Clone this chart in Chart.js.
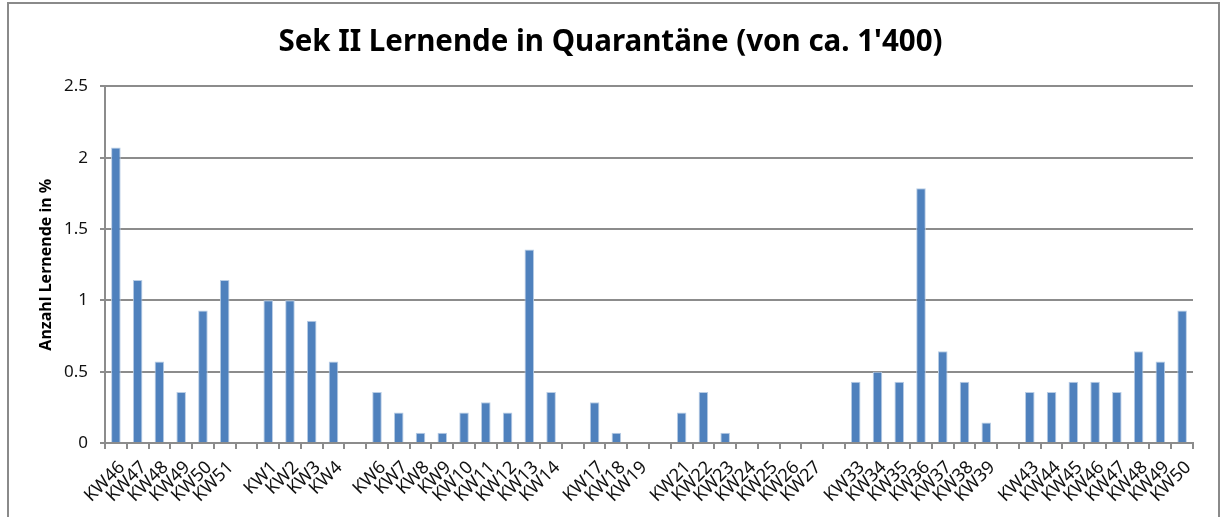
<!DOCTYPE html>
<html>
<head>
<meta charset="utf-8">
<script src="https://cdn.jsdelivr.net/npm/chart.js@4"></script>
<style>
  html, body { margin: 0; padding: 0; background: #fff; overflow: hidden; }
  #wrap { position: relative; width: 1221px; height: 517px; }
  #frame { position: absolute; left: 7px; top: 2px; width: 1209px; height: 600px; border: 2px solid #8a8a8a; }
  canvas { position: absolute; left: 0; top: 0; }
</style>
</head>
<body>
<div id="wrap">
  <div id="frame"></div>
  <canvas id="chart" width="1221" height="517"></canvas>
</div>
<script>
// Kalenderwochen, leere Einträge = Ferien
const weeks = [
  'KW46', 'KW47', 'KW48', 'KW49', 'KW50', 'KW51', '',
  'KW1', 'KW2', 'KW3', 'KW4', '',
  'KW6', 'KW7', 'KW8', 'KW9', 'KW10', 'KW11', 'KW12', 'KW13', 'KW14', '',
  'KW17', 'KW18', 'KW19', '',
  'KW21', 'KW22', 'KW23', 'KW24', 'KW25', 'KW26', 'KW27', '',
  'KW33', 'KW34', 'KW35', 'KW36', 'KW37', 'KW38', 'KW39', '',
  'KW43', 'KW44', 'KW45', 'KW46', 'KW47', 'KW48', 'KW49', 'KW50'
];

// Anteil Lernende in Quarantäne (%)
const quarantine = [
  2.071, 1.143, 0.571, 0.357, 0.929, 1.143, null,
  1.0, 1.0, 0.857, 0.571, null,
  0.357, 0.214, 0.071, 0.071, 0.214, 0.286, 0.214, 1.357, 0.357, null,
  0.286, 0.071, 0, null,
  0.214, 0.357, 0.071, 0, 0, 0, 0, null,
  0.429, 0.5, 0.429, 1.786, 0.643, 0.429, 0.143, null,
  0.357, 0.357, 0.429, 0.429, 0.357, 0.643, 0.571, 0.929
];

const yTicks = [0, 0.5, 1, 1.5, 2, 2.5];

const gridColor = '#8c8c8c';

new Chart(document.getElementById('chart'), {
  type: 'bar',
  data: {
    labels: weeks,
    datasets: [{
      label: 'Lernende in Quarantäne',
      data: quarantine,
      backgroundColor: '#4f81bd',
      borderColor: '#b9cde5',
      borderWidth: { top: 1, left: 1, right: 1, bottom: 0 },
      borderSkipped: 'bottom',
      barPercentage: 0.44,
      categoryPercentage: 1
    }]
  },
  options: {
    responsive: false,
    animation: false,
    layout: { padding: 0 },
    plugins: {
      legend: { display: false },
      tooltip: { enabled: false },
      title: {
        display: true,
        text: "Sek II Lernende in Quarantäne (von ca. 1'400)",
        color: '#000',
        font: { family: 'Noto Sans', size: 29.5, weight: 'bold' },
        padding: { top: 25, bottom: 26 }
      }
    },
    scales: {
      x: {
        offset: true,
        afterFit: (scale) => { scale.height = 74; },
        grid: {
          display: true,
          drawOnChartArea: false,
          drawTicks: true,
          tickLength: 6,
          offset: true,
          color: gridColor,
          lineWidth: 2
        },
        border: { color: gridColor, width: 2 },
        ticks: {
          autoSkip: false,
          maxRotation: 45,
          minRotation: 45,
          padding: 8,
          labelOffset: 6,
          color: '#111',
          font: { family: 'Noto Sans', size: 18 }
        }
      },
      y: {
        min: 0,
        max: 2.5,
        afterFit: (scale) => { scale.width = 105; },
        afterBuildTicks: (scale) => { scale.ticks = yTicks.map(v => ({ value: v })); },
        grid: {
          color: gridColor,
          lineWidth: 2,
          drawTicks: true,
          tickLength: 5
        },
        border: { color: gridColor, width: 2 },
        ticks: {
          padding: 12,
          color: '#111',
          font: { family: 'Noto Sans', size: 17 },
          callback: (v) => String(v)
        },
        title: {
          display: true,
          text: 'Anzahl Lernende in %',
          color: '#000',
          font: { family: 'Noto Sans', size: 16, weight: 'bold' },
          padding: { top: 37, bottom: 0 }
        }
      },
      // leerer Rand rechts, damit der Titel über der ganzen Breite zentriert ist
      right: {
        position: 'right',
        afterFit: (scale) => { scale.width = 28; },
        grid: { display: false },
        border: { display: false },
        ticks: { display: false }
      }
    }
  }
});
</script>
</body>
</html>
